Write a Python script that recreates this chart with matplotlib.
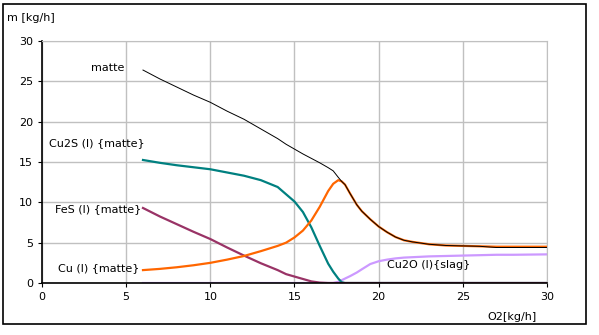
import matplotlib.pyplot as plt
from matplotlib.patches import Rectangle

# O2 feed [kg/h]
o2 = [6, 7, 8, 9, 10, 11, 12, 13, 14, 14.5, 15, 15.5, 16, 16.5, 17, 17.3, 17.6,
      17.8, 18, 18.3, 18.7, 19, 19.5, 20, 20.5, 21, 21.5, 22, 23, 24, 25, 26,
      27, 28, 30]

# component mass flows [kg/h]
matte = [26.4, 25.3, 24.3, 23.3, 22.4, 21.3, 20.3, 19.1, 17.9, 17.2, 16.6, 16.0,
         15.45, 14.9, 14.3, 13.9, 13.1, 12.6, 12.2, 11.1, 9.7, 8.9, 7.9, 7.0,
         6.3, 5.7, 5.3, 5.1, 4.8, 4.65, 4.6, 4.55, 4.4, 4.4, 4.4]
cu = [1.6, 1.75, 1.95, 2.2, 2.5, 2.9, 3.35, 3.95, 4.6, 5.0, 5.65, 6.5, 7.75,
      9.45, 11.4, 12.3, 12.75, 12.6, 12.2, 11.1, 9.7, 8.9, 7.9, 7.0, 6.3, 5.7,
      5.3, 5.1, 4.8, 4.65, 4.6, 4.55, 4.5, 4.5, 4.5]
cu2s = [15.25, 14.9, 14.6, 14.35, 14.1, 13.7, 13.3, 12.75, 11.9, 11.0, 10.1, 8.8,
        6.9, 4.6, 2.4, 1.4, 0.55, 0.1, 0, 0, 0, 0, 0, 0, 0, 0, 0, 0, 0, 0, 0, 0,
        0, 0, 0]
fes = [9.3, 8.25, 7.3, 6.35, 5.45, 4.4, 3.4, 2.45, 1.6, 1.1, 0.8, 0.5, 0.2, 0.05,
       0, 0, 0, 0, 0, 0, 0, 0, 0, 0, 0, 0, 0, 0, 0, 0, 0, 0, 0, 0, 0]
cu2o = [0, 0, 0, 0, 0, 0, 0, 0, 0, 0, 0, 0, 0, 0, 0, 0, 0.15, 0.35, 0.55, 0.85,
        1.3, 1.7, 2.35, 2.7, 2.9, 3.05, 3.15, 3.2, 3.3, 3.35, 3.4, 3.45, 3.5,
        3.5, 3.55]

plt.rcParams['font.family'] = ['DejaVu Sans']
fig = plt.figure(figsize=(5.99, 3.35), dpi=100)
fig.patches.append(Rectangle((0.005, 0.033), 0.973, 0.955, transform=fig.transFigure,
                             fill=False, edgecolor='black', linewidth=1.2))

ax = fig.add_axes([0.0701, 0.1552, 0.8431, 0.7224])
ax.plot(o2, cu2o, color='#CC99FF', linewidth=1.6)
ax.plot(o2, cu2s, color='#008080', linewidth=1.6)
ax.plot(o2, fes, color='#993366', linewidth=1.6)
ax.plot(o2, cu, color='#FF6600', linewidth=1.6)
ax.plot(o2, matte, color='black', linewidth=0.7)

ax.set_xlim(0, 30)
ax.set_ylim(0, 30)
ax.set_xticks(range(0, 31, 5))
ax.set_yticks(range(0, 31, 5))
ax.grid(True, color='#C0C0C0', linewidth=1)
ax.set_axisbelow(True)
for side in ['top', 'right']:
    ax.spines[side].set_color('#C0C0C0')
for side in ['left', 'bottom']:
    ax.spines[side].set_color('black')
    ax.spines[side].set_linewidth(1.2)
ax.tick_params(direction='out', length=3, labelsize=8)

ax.text(-0.07, 1.075, 'm [kg/h]', transform=ax.transAxes, fontsize=8, ha='left', va='bottom')
ax.text(0.98, -0.12, 'O2[kg/h]', transform=ax.transAxes, fontsize=8, ha='right', va='top')

ax.text(4.9, 26.6, 'matte', fontsize=8, ha='right', va='center')
ax.text(0.4, 17.3, 'Cu2S (l) {matte}', fontsize=8, ha='left', va='center')
ax.text(5.9, 9.2, 'FeS (l) {matte}', fontsize=8, ha='right', va='center')
ax.text(5.8, 1.8, 'Cu (l) {matte}', fontsize=8, ha='right', va='center')
ax.text(20.5, 2.2, 'Cu2O (l){slag}', fontsize=8, ha='left', va='center')

fig.savefig('out.png', dpi=100)
